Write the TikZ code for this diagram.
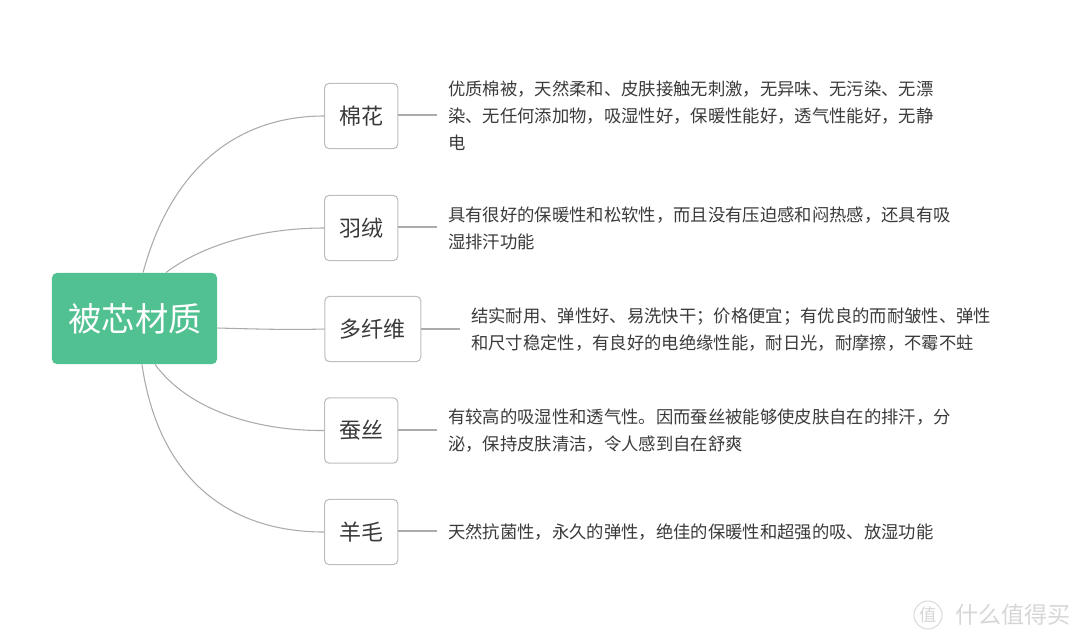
\documentclass[tikz,border=0pt]{standalone}
\usepackage{fontspec}
\usepackage{xcolor}
\setmainfont{Noto Sans CJK SC}
\definecolor{vert}{HTML}{52C191}
\definecolor{encre}{HTML}{3A3A3A}
\definecolor{filet}{HTML}{ABABAB}
\definecolor{bord}{HTML}{BDBDBD}

\begin{document}
\begin{tikzpicture}[x=0.75pt,y=-0.75pt]

\tikzset{
    box/.style = {
    minimum height=49pt,
    inner sep=0pt,
    rounded corners=3.5pt
    }
}

\tikzstyle{racine}=[fill=vert, text=white, minimum width=124pt, minimum height=68.5pt, inner sep=0pt, rounded corners=4pt, font=\fontsize{25}{30}\selectfont]
\tikzstyle{matiere}=[draw=bord, line width=0.8pt, fill=white, text=encre, box, font=\fontsize{16.5}{20}\selectfont]
\tikzstyle{texte}=[anchor=west, align=left, inner xsep=8.25pt, inner ysep=0pt, text=encre, font=\fontsize{13}{20.25}\selectfont]
\tikzstyle{lien}=[draw=filet, line width=0.8pt]
\tikzstyle{marque}=[text=black!16, inner sep=0pt]

\useasboundingbox (0,0) rectangle (1080,640);

\node (materiau) [racine] at (134.5,318.5) {\hspace{1pt}被芯材质};

\node (coton) [matiere, minimum width=55pt] at (361.2,116) {棉花};
\node (duvet) [matiere, minimum width=55pt] at (361.2,228) {羽绒};
\node (fibre) [matiere, minimum width=72pt] at (372.8,329) {多纤维};
\node (soie) [matiere, minimum width=55pt] at (361.2,430.5) {蚕丝};
\node (laine) [matiere, minimum width=55pt] at (361.2,532) {羊毛};

\node (coton-t) [texte] at (437,116) {优质棉被，天然柔和、皮肤接触无刺激，无异味、无污染、无漂\\染、无任何添加物，吸湿性好，保暖性能好，透气性能好，无静\\电};
\node (duvet-t) [texte] at (437,228) {具有很好的保暖性和松软性，而且没有压迫感和闷热感，还具有吸\\湿排汗功能};
\node (fibre-t) [texte] at (460,330) {结实耐用、弹性好、易洗快干；价格便宜；有优良的而耐皱性、弹性\\和尺寸稳定性，有良好的电绝缘性能，耐日光，耐摩擦，不霉不蛀};
\node (soie-t) [texte] at (437,431) {有较高的吸湿性和透气性。因而蚕丝被能够使皮肤自在的排汗，分\\泌，保持皮肤清洁，令人感到自在舒爽};
\node (laine-t) [texte] at (437,532) {天然抗菌性，永久的弹性，绝佳的保暖性和超强的吸、放湿功能};

\draw [lien] ([shift=({6.4pt,0})]materiau.north) .. controls (172,165) and (240,116) .. (coton.west);
\draw [lien] ([shift=({23.6pt,0})]materiau.north) .. controls (205,243) and (265,228) .. (duvet.west);
\draw [lien] (materiau.east |- 0,328) .. controls (255,329) and (290,330) .. (fibre.west);
\draw [lien] ([shift=({15.4pt,0})]materiau.south) .. controls (190,412) and (260,431) .. (soie.west);
\draw [lien] ([shift=({5.6pt,0})]materiau.south) .. controls (158,475) and (225,532) .. (laine.west);

\draw [lien] ([shift=({0,0.75pt})]coton.east |- coton-t.west) -- ([shift=({0,0.75pt})]coton-t.west);
\draw [lien] ([shift=({0,0.75pt})]duvet.east |- duvet-t.west) -- ([shift=({0,0.75pt})]duvet-t.west);
\draw [lien] ([shift=({0,0.75pt})]fibre.east |- fibre-t.west) -- ([shift=({0,0.75pt})]fibre-t.west);
\draw [lien] ([shift=({0,0.75pt})]soie.east |- soie-t.west) -- ([shift=({0,0.75pt})]soie-t.west);
\draw [lien] ([shift=({0,0.75pt})]laine.east |- laine-t.west) -- ([shift=({0,0.75pt})]laine-t.west);

% filigrane
\node (logo) [marque, circle, draw=black!14, line width=0.8pt, minimum size=21pt, font=\fontsize{13}{15}\selectfont] at (928,615) {值};
\node (site) [marque, anchor=west, font=\fontsize{17.3}{20}\selectfont] at (955,615) {什么值得买};

\end{tikzpicture}
\end{document}
